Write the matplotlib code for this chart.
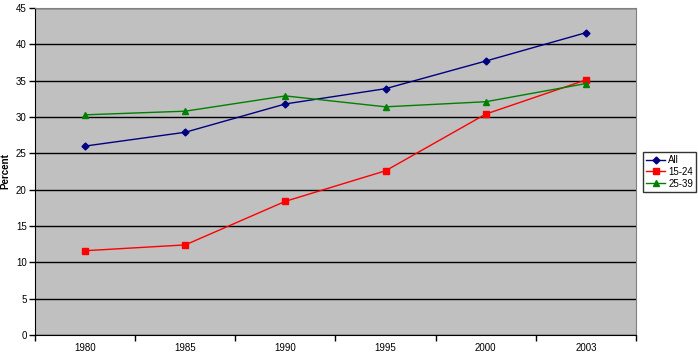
import matplotlib.pyplot as plt
import numpy as np

plt.rcParams['font.family'] = ['Liberation Sans', 'DejaVu Sans']

years = ["1980", "1985", "1990", "1995", "2000", "2003"]
all_ages = [26.0, 27.9, 31.8, 33.9, 37.7, 41.6]
age_15_24 = [11.6, 12.4, 18.4, 22.6, 30.4, 35.1]
age_25_39 = [30.3, 30.8, 32.9, 31.4, 32.1, 34.6]

fig = plt.figure(figsize=(6.98, 3.55), dpi=100)
ax = fig.add_axes([35 / 698, 20 / 355, 601 / 698, 327 / 355])
ax.set_facecolor("#c0c0c0")

x = np.arange(len(years))
ax.plot(x, all_ages, color="#000080", marker="D", markersize=3.5, lw=1, label="All")
ax.plot(x, age_15_24, color="#ff0000", marker="s", markersize=4.5, lw=1, label="15-24")
ax.plot(x, age_25_39, color="#008000", marker="^", markersize=4.5, lw=1, label="25-39")

ax.set_xlim(-0.5, len(years) - 0.5)
ax.set_ylim(0, 45)
ax.set_yticks(np.arange(0, 46, 5))
ax.yaxis.grid(True, color="black", lw=1)
ax.set_axisbelow(True)

ax.set_xticks(x)
ax.set_xticklabels(years)
ax.set_xticks(np.arange(-0.5, len(years), 1), minor=True)
ax.tick_params(axis="x", which="major", length=0, pad=5.5, labelsize=7)
ax.tick_params(axis="x", which="minor", length=4, width=1, color="black")
ax.tick_params(axis="y", length=4, width=1, labelsize=7, pad=2)

for side in ["top", "right"]:
    ax.spines[side].set_color("#808080")
ax.spines["left"].set_color("black")
ax.spines["bottom"].set_color("black")

ax.set_ylabel("Percent", fontsize=7, fontweight="bold", labelpad=4)

leg = fig.legend(loc="upper left", bbox_to_anchor=(643 / 698, 1 - 152 / 355),
                 fontsize=7, frameon=True, fancybox=False, handlelength=2.0,
                 borderpad=0.3, labelspacing=0.2, handletextpad=0.3,
                 borderaxespad=0)
leg.get_frame().set_edgecolor("black")
leg.get_frame().set_linewidth(1)

fig.savefig("out.png", dpi=100)
